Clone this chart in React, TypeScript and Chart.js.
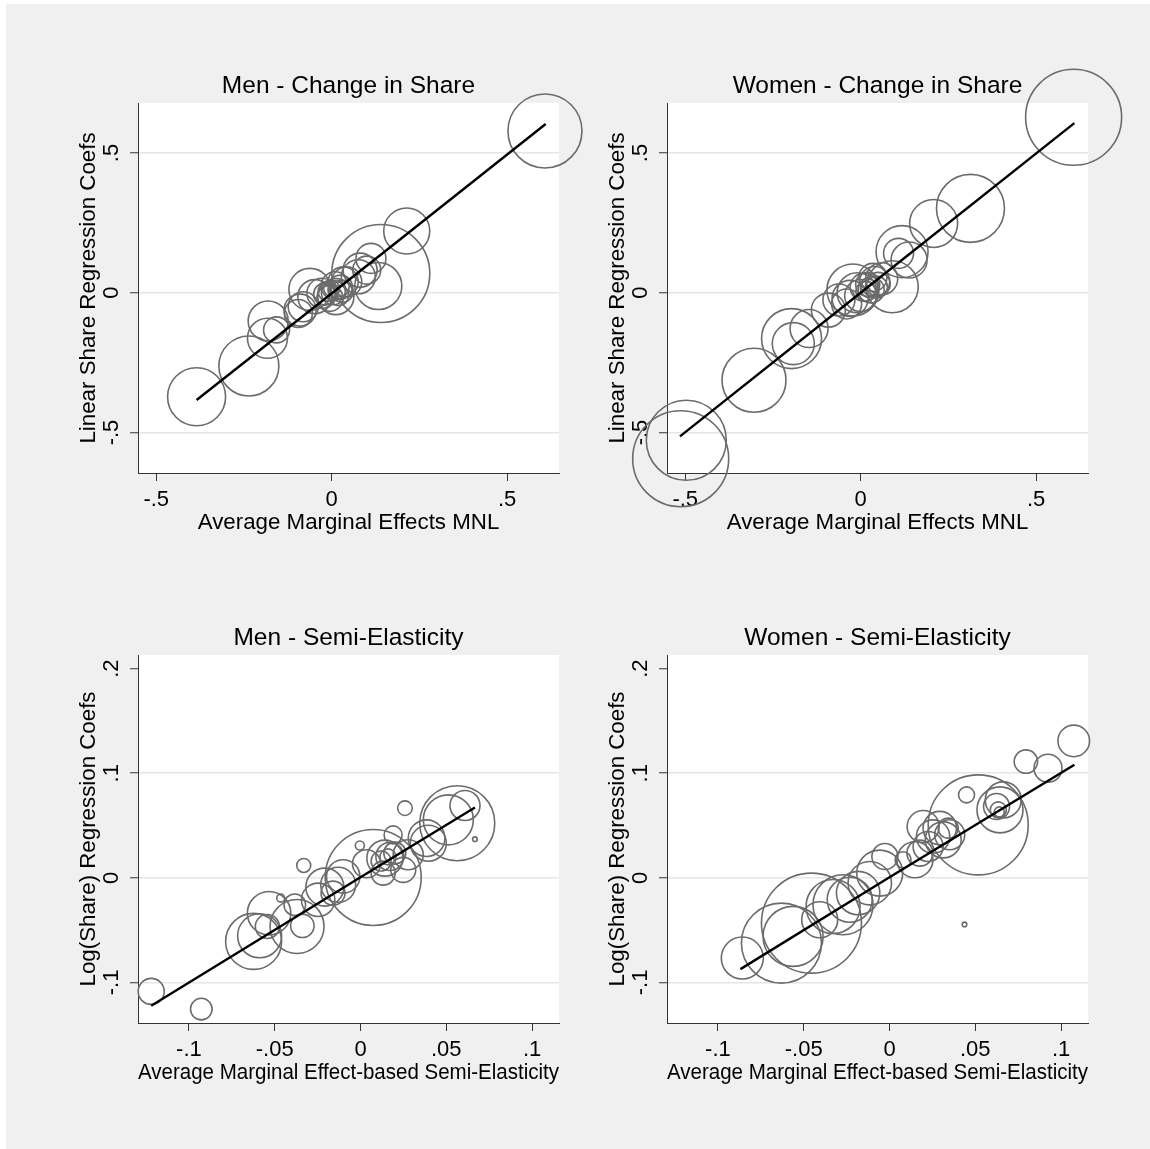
import React, { useEffect, useRef } from "react";
import { Chart, registerables } from "chart.js";
Chart.register(...registerables);

// ---------- tick values / labels ----------
const shareTicks = [-0.5, 0, 0.5];
const shareTickLabels = ["-.5", "0", ".5"];
const semiXTicks = [-0.1, -0.05, 0, 0.05, 0.1];
const semiXTickLabels = ["-.1", "-.05", "0", ".05", ".1"];
const semiYTicks = [-0.1, 0, 0.1, 0.2];
const semiYTickLabels = ["-.1", "0", ".1", ".2"];

// ---------- Men - Change in Share ----------
const menShareX = [-0.385, -0.236, -0.183, -0.181, -0.157, -0.095, -0.081, -0.062, -0.048, -0.09, 0.012, 0.14, 0.133, 0.214, 0.112, 0.076, 0.043, 0.1, -0.028, 0.033, 0.081, 0.608, -0.01, 0.005, 0.015, -0.02, 0.025, 0.0, -0.005, 0.02, 0.03, 0.01];
const menShareY = [-0.372, -0.262, -0.163, -0.101, -0.133, -0.074, -0.05, 0.012, -0.014, -0.062, -0.014, 0.069, 0.024, 0.221, 0.123, 0.057, 0.039, 0.081, -0.002, 0.039, 0.081, 0.579, 0.005, 0.0, 0.01, -0.005, 0.02, 0.015, -0.02, -0.01, 0.005, 0.025];
const menShareW = [29, 30, 20, 20, 13, 14, 15, 21, 17, 16, 18, 49, 23.5, 23, 15, 17, 15, 14, 15, 15, 17, 37, 10, 12, 9, 11, 12, 8, 13, 10, 11, 14];
const menShareFitX = [-0.385, 0.157, 0.61];
const menShareFitY = [-0.384, 0.153, 0.604];

// ---------- Women - Change in Share ----------
const womenShareX = [0.607, -0.513, -0.497, -0.304, -0.197, -0.192, -0.147, -0.092, -0.022, -0.062, 0.09, 0.118, 0.138, 0.108, 0.208, 0.313, -0.04, -0.03, 0.0, 0.01, 0.02, 0.03, 0.04, 0.05, 0.015, 0.025, -0.01, 0.06, 0.035, 0.045];
const womenShareY = [0.628, -0.594, -0.528, -0.313, -0.164, -0.182, -0.128, -0.062, 0.01, -0.026, 0.0215, 0.147, 0.117, 0.141, 0.248, 0.302, -0.04, -0.02, -0.01, 0.02, 0.03, 0.01, 0.04, 0.03, 0.005, 0.015, 0.0, 0.05, 0.055, 0.02];
const womenShareW = [48, 48, 40, 32, 30, 21, 19, 17, 26, 16, 26, 26, 18, 15, 24, 34, 15, 18, 16, 14, 12, 13, 15, 12, 10, 9, 20, 16, 14, 11];
const womenShareFitX = [-0.515, 0.0, 0.609];
const womenShareFitY = [-0.514, 0.0, 0.607];

// ---------- Men - Semi-Elasticity ----------
const menSemiX = [-0.122, -0.0928, -0.0623, -0.0588, -0.0533, -0.0543, -0.0465, -0.037, -0.0339, -0.0383, -0.0331, -0.0247, -0.0208, -0.013, -0.016, -0.0101, 0.0074, -0.0004, 0.0035, 0.0132, 0.0142, 0.0171, 0.02, 0.019, 0.0259, 0.0249, 0.0278, 0.0385, 0.0395, 0.0564, 0.0512, 0.0609, 0.0667, 0.012, 0.016];
const menSemiY = [-0.1086, -0.1255, -0.0608, -0.0554, -0.0338, -0.0465, -0.0194, -0.0465, -0.0459, -0.0258, 0.0118, -0.021, -0.0089, -0.0067, -0.0146, 0.0013, 0.0003, 0.0309, 0.0134, 0.0045, 0.0188, 0.0204, 0.0236, 0.041, 0.0666, 0.0076, 0.022, 0.0379, 0.0331, 0.0522, 0.0554, 0.0691, 0.0369, 0.016, 0.02];
const menSemiW = [13, 10.8, 28, 22, 21.7, 12, 4, 27, 11.7, 10.8, 7, 16.7, 19, 17.5, 12, 16.7, 48, 4.5, 14, 12, 18, 14, 11, 9, 7.3, 12.5, 15, 18.3, 18, 37.5, 25, 15, 2.3, 10, 8];
const menSemiFitX = [-0.122, 0.0, 0.0667];
const menSemiFitY = [-0.1223, 0.0006, 0.0672];

// ---------- Women - Semi-Elasticity ----------
const womenSemiX = [-0.0858, -0.063, -0.0455, -0.0562, -0.0407, -0.0329, -0.0271, -0.0232, -0.0183, -0.0115, -0.0057, -0.0027, 0.0079, 0.0148, 0.0196, 0.0177, 0.0225, 0.0254, 0.0293, 0.0313, 0.0342, 0.0351, 0.0517, 0.0449, 0.0644, 0.0624, 0.0634, 0.064, 0.0663, 0.0437, 0.0795, 0.0924, 0.1074];
const womenSemiY = [-0.0767, -0.0624, -0.0433, -0.056, -0.0401, -0.0274, -0.0258, -0.021, -0.0146, -0.0051, 0.0045, 0.0203, 0.0172, 0.0172, 0.049, 0.0236, 0.0299, 0.0394, 0.0475, 0.0363, 0.0475, 0.0411, 0.0506, 0.0793, 0.0649, 0.0681, 0.0649, 0.063, 0.0745, -0.0446, 0.1111, 0.1048, 0.1309];
const womenSemiW = [21, 40, 50, 30, 18, 27, 30, 22.5, 21.7, 21.7, 23, 13, 8, 18, 16, 13, 15, 16.7, 16.7, 18, 10, 15, 50, 8, 23, 13, 8, 5, 18, 2.3, 11.7, 14, 15.8];
const womenSemiFitX = [-0.0869, 0.0, 0.1078];
const womenSemiFitY = [-0.0873, 0.0006, 0.108];

// ---------- layout (styling only) ----------
const FONT = "'Liberation Sans', Arial, Helvetica, sans-serif";
const COLS = [
  { left: 138, right: 559 },
  { left: 667, right: 1088 },
];
const ROWS = [
  { top: 103, bottom: 473 },
  { top: 655, bottom: 1023 },
];
const ML = 80;
const MT = 55;
const MR = 60;
const MB = 85;

const plotBg = {
  id: "plotBg",
  beforeDraw(chart: any) {
    const { ctx, chartArea: a } = chart;
    ctx.save();
    ctx.fillStyle = "#ffffff";
    ctx.fillRect(a.left, a.top, a.right - a.left, a.bottom - a.top);
    ctx.restore();
  },
};

type PanelProps = {
  col: number;
  row: number;
  title: string;
  xTitle: string;
  yTitle: string;
  xs: number[];
  ys: number[];
  ws: number[];
  fitX: number[];
  fitY: number[];
  xMin: number;
  xMax: number;
  yMin: number;
  yMax: number;
  xTicks: number[];
  xLabels: string[];
  yTicks: number[];
  yLabels: string[];
  noGrid: number[];
};

function Panel(p: PanelProps) {
  const ref = useRef<HTMLCanvasElement>(null);
  const c = COLS[p.col];
  const r = ROWS[p.row];
  const pw = c.right - c.left;
  const ph = r.bottom - r.top;
  const w = pw + ML + MR;
  const h = ph + MT + MB;
  const left = c.left - ML;
  const top = r.top - MT;

  useEffect(() => {
    const canvas = ref.current!;
    const titleSize = 24.5;
    const titleLH = titleSize * 1.2;
    const tickSize = 22;
    const axSize = 22.3;
    const axLH = axSize * 1.2;
    const titleGap = 16.5;
    const chart = new Chart(canvas, {
      type: "bubble",
      data: {
        datasets: [
          {
            type: "line",
            data: p.fitX.map((x, i) => ({ x, y: p.fitY[i] })),
            borderColor: "#000000",
            borderWidth: 2.4,
            pointRadius: 0,
            tension: 0,
            fill: false,
            clip: false,
          } as any,
          {
            type: "bubble",
            data: p.xs.map((x, i) => ({ x, y: p.ys[i], r: p.ws[i] })),
            backgroundColor: "rgba(0,0,0,0)",
            borderColor: "#6b6b6b",
            borderWidth: 1.6,
            hoverBorderWidth: 1.6,
            clip: false,
          } as any,
        ],
      },
      options: {
        animation: false,
        responsive: false,
        devicePixelRatio: 1,
        events: [],
        layout: { padding: { left: 0, top: 0, right: MR, bottom: 0 } },
        plugins: {
          legend: { display: false },
          tooltip: { enabled: false },
          title: {
            display: true,
            text: p.title,
            fullSize: false,
            color: "#000000",
            font: { family: FONT, size: titleSize, weight: "normal" as any, lineHeight: 1.2 },
            padding: { top: MT - titleGap - titleLH / 2, bottom: titleGap - titleLH / 2 },
          },
        },
        scales: {
          x: {
            type: "linear",
            min: p.xMin,
            max: p.xMax,
            afterBuildTicks: (s: any) => {
              s.ticks = p.xTicks.map((v) => ({ value: v }));
            },
            afterFit: (s: any) => {
              s.height = MB;
            },
            ticks: {
              autoSkip: false,
              maxRotation: 0,
              minRotation: 0,
              padding: 6,
              color: "#000000",
              font: { family: FONT, size: tickSize },
              callback: (v: any) => {
                const i = p.xTicks.findIndex((t) => Math.abs(t - Number(v)) < 1e-9);
                return i >= 0 ? p.xLabels[i] : "";
              },
            },
            grid: {
              display: true,
              drawOnChartArea: false,
              drawTicks: true,
              tickLength: 8,
              tickColor: "#333333",
              tickWidth: 1,
            },
            border: { display: true, color: "#333333", width: 1 },
            title: {
              display: true,
              text: p.xTitle,
              color: "#000000",
              font: { family: FONT, size: axSize, lineHeight: 1.2 },
              padding: { top: 0, bottom: MB - 50 - axLH / 2 },
            },
          },
          y: {
            type: "linear",
            min: p.yMin,
            max: p.yMax,
            afterBuildTicks: (s: any) => {
              s.ticks = p.yTicks.map((v) => ({ value: v }));
            },
            afterFit: (s: any) => {
              s.width = ML;
            },
            ticks: {
              autoSkip: false,
              minRotation: 90,
              maxRotation: 90,
              crossAlign: "center",
              padding: 5,
              color: "#000000",
              font: { family: FONT, size: tickSize },
              callback: (v: any) => {
                const i = p.yTicks.findIndex((t) => Math.abs(t - Number(v)) < 1e-9);
                return i >= 0 ? p.yLabels[i] : "";
              },
            },
            grid: {
              display: true,
              drawOnChartArea: true,
              drawTicks: true,
              tickLength: 8,
              tickColor: "#333333",
              tickWidth: 1,
              lineWidth: 1.5,
              color: (ctx: any) => {
                const v = ctx.tick ? ctx.tick.value : 0;
                return p.noGrid.some((t) => Math.abs(t - v) < 1e-9) ? "rgba(0,0,0,0)" : "#e6e6e6";
              },
            },
            border: { display: true, color: "#333333", width: 1 },
            title: {
              display: true,
              text: p.yTitle,
              color: "#000000",
              font: { family: FONT, size: axSize, lineHeight: 1.2 },
              padding: { top: ML - 49.5 - axLH / 2, bottom: 0 },
            },
          },
        },
      },
      plugins: [plotBg],
    } as any);
    return () => chart.destroy();
  }, []);

  return (
    <canvas
      ref={ref}
      width={w}
      height={h}
      style={{ position: "absolute", left, top, width: w, height: h }}
    />
  );
}

export default function App() {
  const shareRange = { xMin: -0.552, xMax: 0.648, yMin: -0.645, yMax: 0.679 };
  const semiRange = { xMin: -0.1297, xMax: 0.1157, yMin: -0.1388, yMax: 0.213 };
  return (
    <div style={{ position: "absolute", left: 0, top: 0, width: 1150, height: 1149, background: "#ffffff", overflow: "hidden" }}>
      <div style={{ position: "absolute", left: 6, top: 4, right: 0, bottom: 0, background: "#f0f0f0" }} />
      <Panel
        col={0}
        row={0}
        title="Men - Change in Share"
        xTitle="Average Marginal Effects MNL"
        yTitle="Linear Share Regression Coefs"
        xs={menShareX}
        ys={menShareY}
        ws={menShareW}
        fitX={menShareFitX}
        fitY={menShareFitY}
        {...shareRange}
        xTicks={shareTicks}
        xLabels={shareTickLabels}
        yTicks={shareTicks}
        yLabels={shareTickLabels}
        noGrid={[]}
      />
      <Panel
        col={1}
        row={0}
        title="Women - Change in Share"
        xTitle="Average Marginal Effects MNL"
        yTitle="Linear Share Regression Coefs"
        xs={womenShareX}
        ys={womenShareY}
        ws={womenShareW}
        fitX={womenShareFitX}
        fitY={womenShareFitY}
        {...shareRange}
        xTicks={shareTicks}
        xLabels={shareTickLabels}
        yTicks={shareTicks}
        yLabels={shareTickLabels}
        noGrid={[]}
      />
      <Panel
        col={0}
        row={1}
        title="Men - Semi-Elasticity"
        xTitle="Average Marginal Effect-based Semi-Elasticity"
        yTitle="Log(Share) Regression Coefs"
        xs={menSemiX}
        ys={menSemiY}
        ws={menSemiW}
        fitX={menSemiFitX}
        fitY={menSemiFitY}
        {...semiRange}
        xTicks={semiXTicks}
        xLabels={semiXTickLabels}
        yTicks={semiYTicks}
        yLabels={semiYTickLabels}
        noGrid={[0.2]}
      />
      <Panel
        col={1}
        row={1}
        title="Women - Semi-Elasticity"
        xTitle="Average Marginal Effect-based Semi-Elasticity"
        yTitle="Log(Share) Regression Coefs"
        xs={womenSemiX}
        ys={womenSemiY}
        ws={womenSemiW}
        fitX={womenSemiFitX}
        fitY={womenSemiFitY}
        {...semiRange}
        xTicks={semiXTicks}
        xLabels={semiXTickLabels}
        yTicks={semiYTicks}
        yLabels={semiYTickLabels}
        noGrid={[0.2]}
      />
    </div>
  );
}
